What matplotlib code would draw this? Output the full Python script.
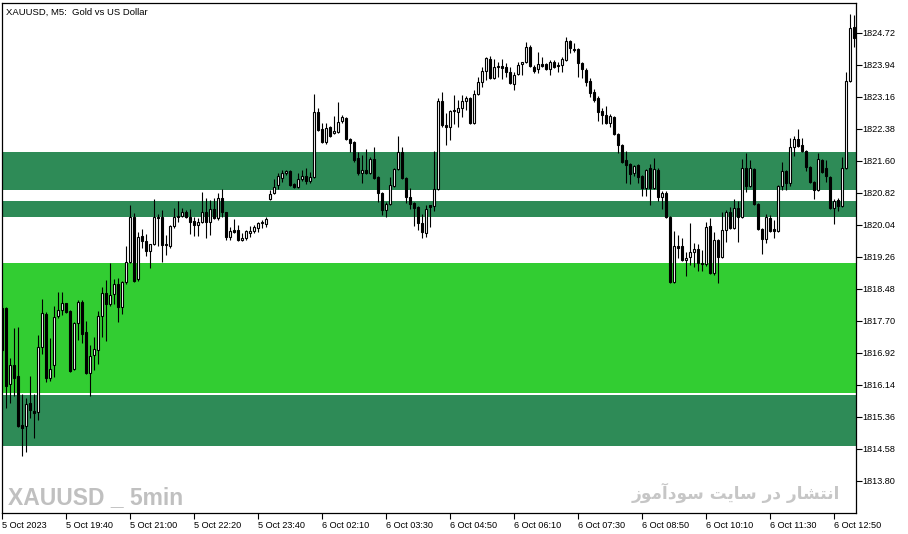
import matplotlib
matplotlib.use("Agg")
import matplotlib.pyplot as plt

plt.rcParams['font.family'] = ['Liberation Sans', 'DejaVu Sans']

# ---------------- data (XAUUSD M5 candles) ----------------
opens = [
    1818.01, 1818.01, 1816.16, 1816.62, 1816.36, 1815.16, 1815.14, 1815.70, 1815.50, 1815.48,
    1817.06, 1817.87, 1816.31, 1816.62, 1817.82, 1817.96, 1818.13, 1817.94, 1816.53, 1817.65,
    1818.16, 1817.43, 1816.43, 1816.87, 1816.99, 1817.82, 1818.38, 1818.11, 1818.35, 1818.60,
    1818.04, 1818.65, 1819.13, 1820.23, 1818.72, 1819.77, 1819.65, 1819.40, 1819.57, 1820.21,
    1820.23, 1819.57, 1819.52, 1820.01, 1820.23, 1820.26, 1820.35, 1820.23, 1820.13, 1820.04,
    1820.11, 1820.35, 1820.11, 1820.43, 1820.21, 1820.69, 1820.35, 1819.74, 1819.91, 1819.91,
    1819.67, 1819.72, 1819.84, 1819.89, 1819.96, 1820.08, 1820.06, 1820.67, 1820.82, 1821.01,
    1821.18, 1821.30, 1821.35, 1821.03, 1820.96, 1821.16, 1821.23, 1821.11, 1821.21, 1822.79,
    1822.38, 1822.06, 1822.42, 1822.28, 1822.30, 1822.57, 1822.64, 1822.13, 1822.06, 1821.67,
    1821.30, 1821.38, 1821.30, 1821.64, 1821.21, 1820.82, 1820.40, 1820.55, 1820.99, 1821.40,
    1821.81, 1821.18, 1820.72, 1820.57, 1820.47, 1820.08, 1819.84, 1820.52, 1820.50, 1820.91,
    1823.06, 1822.47, 1822.42, 1822.84, 1822.79, 1822.89, 1823.06, 1823.13, 1822.52, 1823.23,
    1823.52, 1823.79, 1824.08, 1823.62, 1823.89, 1823.91, 1823.89, 1823.76, 1823.47, 1823.72,
    1823.96, 1824.01, 1824.37, 1823.89, 1823.84, 1823.96, 1823.96, 1823.84, 1824.01, 1823.94,
    1823.94, 1824.06, 1824.52, 1824.33, 1824.33, 1823.98, 1823.81, 1823.55, 1823.28, 1823.13,
    1822.81, 1822.72, 1822.52, 1822.67, 1822.25, 1821.99, 1821.62, 1821.52, 1821.30, 1821.50,
    1821.23, 1820.94, 1821.43, 1820.94, 1821.38, 1820.72, 1820.82, 1820.23, 1818.65, 1819.52,
    1819.52, 1819.18, 1819.26, 1819.38, 1819.45, 1819.11, 1819.09, 1820.01, 1818.87, 1819.67,
    1819.26, 1819.91, 1820.35, 1819.96, 1820.45, 1820.23, 1821.43, 1820.99, 1821.40, 1820.55,
    1819.94, 1819.70, 1820.21, 1819.94, 1819.89, 1820.99, 1821.35, 1821.06, 1821.94, 1822.13,
    1821.99, 1821.84, 1821.45, 1821.08, 1820.89, 1821.62, 1821.43, 1821.21, 1820.45, 1820.65,
    1820.50, 1821.43, 1823.55, 1824.86,
]
highs = [
    1818.09, 1818.03, 1816.79, 1817.53, 1817.55, 1815.92, 1815.82, 1816.36, 1815.92, 1817.35,
    1818.23, 1817.92, 1817.28, 1818.06, 1818.40, 1818.40, 1818.13, 1817.96, 1817.67, 1818.21,
    1818.21, 1817.70, 1817.11, 1817.31, 1817.94, 1818.52, 1818.70, 1819.11, 1818.72, 1818.74,
    1818.67, 1819.52, 1820.52, 1820.33, 1819.87, 1819.94, 1819.82, 1819.57, 1820.67, 1820.30,
    1820.40, 1819.79, 1820.04, 1820.45, 1820.62, 1820.45, 1820.40, 1820.43, 1820.23, 1820.21,
    1820.84, 1820.69, 1820.65, 1820.69, 1820.82, 1820.91, 1820.35, 1819.99, 1820.18, 1820.04,
    1819.84, 1819.91, 1820.01, 1820.04, 1820.11, 1820.16, 1820.23, 1820.89, 1821.16, 1821.30,
    1821.38, 1821.38, 1821.38, 1821.06, 1821.30, 1821.38, 1821.43, 1821.33, 1823.23, 1822.89,
    1822.52, 1822.52, 1822.45, 1822.69, 1823.03, 1822.72, 1822.66, 1822.15, 1822.08, 1821.81,
    1821.74, 1821.89, 1821.69, 1821.94, 1821.23, 1820.84, 1820.60, 1821.21, 1821.43, 1822.20,
    1821.94, 1821.21, 1820.94, 1820.60, 1820.50, 1820.30, 1820.52, 1820.52, 1821.84, 1823.13,
    1823.28, 1822.77, 1822.84, 1823.20, 1823.08, 1823.20, 1823.18, 1823.15, 1823.33, 1823.64,
    1823.89, 1824.13, 1824.16, 1824.08, 1824.01, 1824.08, 1823.98, 1823.89, 1823.76, 1824.01,
    1824.01, 1824.50, 1824.42, 1823.94, 1824.25, 1824.13, 1823.98, 1824.06, 1824.06, 1824.01,
    1824.13, 1824.62, 1824.54, 1824.47, 1824.35, 1824.01, 1823.86, 1823.62, 1823.35, 1823.18,
    1822.89, 1822.94, 1822.74, 1822.69, 1822.28, 1822.01, 1821.84, 1821.55, 1821.50, 1821.52,
    1821.25, 1821.40, 1821.52, 1821.67, 1821.43, 1820.87, 1820.87, 1820.26, 1819.89, 1819.79,
    1819.72, 1819.38, 1820.08, 1819.60, 1819.57, 1819.43, 1820.11, 1820.21, 1819.87, 1819.70,
    1820.35, 1820.40, 1820.47, 1820.67, 1820.62, 1821.64, 1821.79, 1821.62, 1821.43, 1820.57,
    1819.96, 1820.30, 1820.28, 1820.16, 1821.01, 1821.57, 1821.38, 1822.16, 1822.20, 1822.38,
    1822.16, 1821.86, 1821.47, 1821.11, 1821.79, 1821.64, 1821.62, 1821.23, 1820.67, 1820.69,
    1821.69, 1823.76, 1825.18, 1825.15,
]
lows = [
    1816.94, 1815.58, 1815.70, 1815.87, 1815.12, 1814.40, 1814.50, 1815.33, 1814.84, 1815.28,
    1816.89, 1816.21, 1816.23, 1816.33, 1817.77, 1817.84, 1817.89, 1816.45, 1816.50, 1817.23,
    1817.16, 1816.40, 1815.87, 1816.50, 1816.65, 1817.31, 1817.21, 1818.06, 1818.11, 1817.67,
    1817.87, 1818.60, 1819.11, 1818.65, 1818.67, 1819.48, 1819.28, 1818.99, 1819.55, 1819.52,
    1819.13, 1819.30, 1819.48, 1819.96, 1820.11, 1820.23, 1820.21, 1819.82, 1819.77, 1819.77,
    1820.08, 1819.72, 1819.79, 1820.18, 1820.16, 1820.23, 1819.67, 1819.67, 1819.84, 1819.65,
    1819.65, 1819.67, 1819.74, 1819.84, 1819.87, 1819.96, 1819.99, 1820.65, 1820.79, 1820.91,
    1821.08, 1821.25, 1820.99, 1820.94, 1820.94, 1821.11, 1821.03, 1821.06, 1821.18, 1822.33,
    1822.03, 1822.01, 1822.18, 1822.25, 1822.28, 1822.52, 1822.11, 1821.81, 1821.57, 1821.25,
    1821.06, 1821.28, 1821.28, 1821.16, 1820.60, 1820.28, 1820.23, 1820.52, 1820.96, 1821.38,
    1821.16, 1820.57, 1820.43, 1820.01, 1819.91, 1819.72, 1819.74, 1819.99, 1820.38, 1820.89,
    1822.42, 1821.99, 1822.11, 1822.50, 1822.42, 1822.67, 1822.84, 1822.50, 1822.50, 1823.20,
    1823.40, 1823.57, 1823.59, 1823.59, 1823.64, 1823.59, 1823.64, 1823.47, 1823.33, 1823.69,
    1823.69, 1823.98, 1823.89, 1823.74, 1823.74, 1823.89, 1823.81, 1823.69, 1823.86, 1823.76,
    1823.76, 1824.03, 1824.23, 1824.25, 1823.64, 1823.62, 1823.42, 1823.16, 1823.03, 1822.57,
    1822.50, 1822.50, 1822.42, 1822.23, 1821.79, 1821.55, 1821.06, 1821.03, 1821.23, 1821.06,
    1820.74, 1820.74, 1820.52, 1820.91, 1820.62, 1820.43, 1820.21, 1818.62, 1818.62, 1819.23,
    1819.16, 1818.79, 1819.06, 1819.01, 1818.91, 1818.91, 1819.04, 1818.84, 1818.82, 1818.62,
    1819.23, 1819.62, 1819.94, 1819.94, 1819.62, 1820.21, 1820.84, 1820.96, 1820.52, 1819.91,
    1819.33, 1819.60, 1819.87, 1819.72, 1819.87, 1820.89, 1820.89, 1820.99, 1821.72, 1821.94,
    1821.81, 1821.35, 1821.06, 1820.67, 1820.87, 1821.30, 1821.08, 1820.43, 1820.06, 1820.38,
    1820.47, 1821.40, 1823.52, 1824.37,
]
closes = [
    1816.99, 1816.11, 1816.62, 1816.31, 1815.14, 1815.09, 1815.67, 1815.53, 1815.45, 1817.06,
    1817.89, 1816.31, 1816.53, 1817.79, 1817.96, 1818.13, 1817.92, 1816.48, 1817.65, 1818.16,
    1817.38, 1816.43, 1816.84, 1817.01, 1817.82, 1818.38, 1818.11, 1818.33, 1818.60, 1818.04,
    1818.65, 1819.13, 1820.23, 1818.67, 1819.74, 1819.65, 1819.40, 1819.57, 1820.23, 1820.23,
    1819.55, 1819.55, 1820.01, 1820.23, 1820.26, 1820.35, 1820.23, 1820.11, 1820.04, 1820.11,
    1820.35, 1820.11, 1820.43, 1820.21, 1820.69, 1820.35, 1819.74, 1819.89, 1819.87, 1819.67,
    1819.72, 1819.89, 1819.89, 1819.99, 1820.08, 1820.11, 1820.18, 1820.79, 1820.96, 1821.23,
    1821.30, 1821.35, 1821.01, 1820.96, 1821.16, 1821.23, 1821.11, 1821.21, 1822.79, 1822.35,
    1822.06, 1822.40, 1822.20, 1822.33, 1822.55, 1822.67, 1822.13, 1822.03, 1821.62, 1821.30,
    1821.38, 1821.30, 1821.64, 1821.18, 1820.82, 1820.40, 1820.55, 1821.01, 1821.40, 1821.81,
    1821.18, 1820.72, 1820.55, 1820.45, 1820.08, 1819.87, 1820.43, 1820.47, 1820.91, 1823.06,
    1822.47, 1822.42, 1822.81, 1822.81, 1822.89, 1823.06, 1823.13, 1822.52, 1823.23, 1823.52,
    1823.79, 1824.11, 1823.62, 1823.89, 1823.91, 1823.86, 1823.76, 1823.50, 1823.69, 1823.94,
    1824.01, 1824.37, 1823.91, 1823.79, 1823.96, 1823.91, 1823.84, 1824.01, 1823.89, 1823.91,
    1824.08, 1824.52, 1824.35, 1824.30, 1823.98, 1823.84, 1823.52, 1823.25, 1823.08, 1822.79,
    1822.72, 1822.52, 1822.69, 1822.25, 1821.99, 1821.57, 1821.50, 1821.28, 1821.47, 1821.21,
    1820.94, 1821.38, 1820.94, 1821.40, 1820.72, 1820.82, 1820.23, 1818.65, 1819.52, 1819.48,
    1819.18, 1819.23, 1819.38, 1819.45, 1819.11, 1819.09, 1819.99, 1818.87, 1819.67, 1819.26,
    1819.91, 1820.35, 1819.96, 1820.45, 1820.23, 1821.43, 1820.99, 1821.43, 1820.55, 1819.94,
    1819.70, 1820.23, 1819.89, 1819.89, 1820.99, 1821.35, 1821.06, 1821.94, 1822.13, 1821.96,
    1821.84, 1821.45, 1821.08, 1820.89, 1821.64, 1821.33, 1821.23, 1820.45, 1820.62, 1820.50,
    1821.43, 1823.55, 1824.84, 1824.59,
]

time_labels = ["5 Oct 2023", "5 Oct 19:40", "5 Oct 21:00", "5 Oct 22:20", "5 Oct 23:40",
               "6 Oct 02:10", "6 Oct 03:30", "6 Oct 04:50", "6 Oct 06:10", "6 Oct 07:30",
               "6 Oct 08:50", "6 Oct 10:10", "6 Oct 11:30", "6 Oct 12:50"]
label_every = 16  # bars between time labels

price_ticks = [1824.72, 1823.94, 1823.16, 1822.38, 1821.60, 1820.82, 1820.04, 1819.26,
               1818.48, 1817.70, 1816.92, 1816.14, 1815.36, 1814.58, 1813.80]

dark_zones = [(1820.89, 1821.82), (1820.23, 1820.62), (1814.65, 1815.89)]
light_zones = [(1815.94, 1819.11)]

title_text = "XAUUSD, M5:  Gold vs US Dollar"
mark_left = "XAUUSD _ 5min"
mark_right = "انتشار در سایت سودآموز"

# ---------------- simple Arabic-script shaping for the watermark ----------------
FORMS = {  # isolated, final, initial, medial
    'ا': ('\uFE8D', '\uFE8E', None, None),
    'آ': ('\uFE81', '\uFE82', None, None),
    'ن': ('\uFEE5', '\uFEE6', '\uFEE7', '\uFEE8'),
    'ت': ('\uFE95', '\uFE96', '\uFE97', '\uFE98'),
    'ش': ('\uFEB5', '\uFEB6', '\uFEB7', '\uFEB8'),
    'ر': ('\uFEAD', '\uFEAE', None, None),
    'د': ('\uFEA9', '\uFEAA', None, None),
    'س': ('\uFEB1', '\uFEB2', '\uFEB3', '\uFEB4'),
    'ی': ('\uFBFC', '\uFBFD', '\uFBFE', '\uFBFF'),
    'و': ('\uFEED', '\uFEEE', None, None),
    'م': ('\uFEE1', '\uFEE2', '\uFEE3', '\uFEE4'),
    'ز': ('\uFEAF', '\uFEB0', None, None),
}


def shape(text):
    out = []
    for k, ch in enumerate(text):
        if ch not in FORMS:
            out.append(ch)
            continue
        prev = text[k - 1] if k > 0 else None
        nxt = text[k + 1] if k + 1 < len(text) else None
        jp = prev in FORMS and FORMS[prev][2] is not None
        jn = nxt in FORMS and FORMS[ch][2] is not None
        iso, fin, ini, med = FORMS[ch]
        if jp and jn:
            out.append(med)
        elif jp:
            out.append(fin)
        elif jn:
            out.append(ini)
        else:
            out.append(iso)
    return ''.join(out)[::-1]


# ---------------- figure ----------------
W, H = 908, 534
fig = plt.figure(figsize=(W / 100, H / 100), dpi=100)
fig.patch.set_facecolor('white')
ax = fig.add_axes([2 / W, 21 / H, 854 / W, 510 / H])
ax.set_facecolor('white')

for lo, hi in dark_zones:
    ax.axhspan(lo, hi, color='#2E8B57', lw=0, zorder=1)
for lo, hi in light_zones:
    ax.axhspan(lo, hi, color='#32CD32', lw=0, zorder=1)

n = len(opens)
xs = list(range(n))
ax.vlines(xs, lows, highs, color='black', linewidth=0.8, zorder=3)
bottoms = [min(o, c) for o, c in zip(opens, closes)]
heights = [max(abs(c - o), 0.012) for o, c in zip(opens, closes)]
fills = ['white' if c >= o else 'black' for o, c in zip(opens, closes)]
ax.bar(xs, heights, bottom=bottoms, width=0.5, color=fills, edgecolor='black',
       linewidth=0.8, zorder=4)

ax.set_xlim(0, 213.5)
ax.set_ylim(1813.016, 1825.447)

for s in ax.spines.values():
    s.set_color('black')
    s.set_linewidth(0.9)

ax.yaxis.tick_right()
ax.set_yticks(price_ticks)
ax.set_yticklabels([f"{p:.2f}" for p in price_ticks])
ax.tick_params(axis='y', direction='out', length=4, width=0.8, pad=0.8,
               labelsize=6.6, colors='black')

ax.set_xticks([k * label_every for k in range(len(time_labels))])
ax.set_xticklabels(time_labels, ha='left')
ax.tick_params(axis='x', direction='out', length=4, width=0.8, pad=1.5,
               labelsize=6.6, colors='black')

ax.text(4 / 854, 1 - 9 / 510, title_text, transform=ax.transAxes, fontsize=6.8,
        ha='left', va='center', color='black', zorder=6)

fig.text(8 / W, 1 - 504 / H, mark_left, fontsize=16.5, fontweight='bold',
         family=['Liberation Sans', 'DejaVu Sans'], color='#C0C0C0',
         ha='left', va='baseline', zorder=6)
fig.text(840 / W, 1 - 493 / H, shape(mark_right), fontsize=12.2, fontweight='bold',
         family=['DejaVu Sans'], color='#C6C6C6', ha='right', va='center', zorder=6)

fig.savefig('out.png', dpi=100, facecolor='white')
